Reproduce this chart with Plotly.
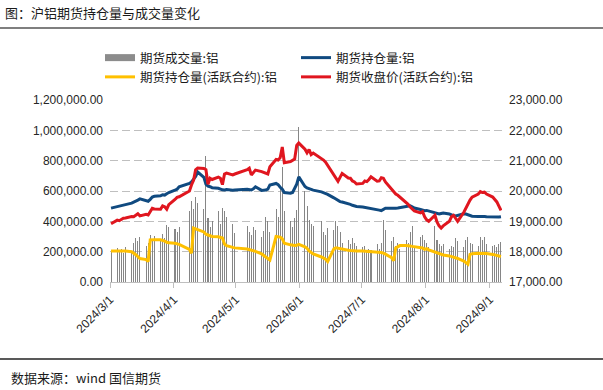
import pandas as pd
import plotly.graph_objects as go

# ---------------- data ----------------
dates = [
    "2024-03-01", "2024-03-04", "2024-03-05", "2024-03-06", "2024-03-07", "2024-03-08",
    "2024-03-11", "2024-03-12", "2024-03-13", "2024-03-14", "2024-03-15",
    "2024-03-18", "2024-03-19", "2024-03-20", "2024-03-21", "2024-03-22",
    "2024-03-25", "2024-03-26", "2024-03-27", "2024-03-28", "2024-03-29",
    "2024-04-01", "2024-04-02", "2024-04-03",
    "2024-04-08", "2024-04-09", "2024-04-10", "2024-04-11", "2024-04-12",
    "2024-04-15", "2024-04-16", "2024-04-17", "2024-04-18", "2024-04-19",
    "2024-04-22", "2024-04-23", "2024-04-24", "2024-04-25", "2024-04-26",
    "2024-04-29", "2024-04-30",
    "2024-05-06", "2024-05-07", "2024-05-08", "2024-05-09", "2024-05-10",
    "2024-05-13", "2024-05-14", "2024-05-15", "2024-05-16", "2024-05-17",
    "2024-05-20", "2024-05-21", "2024-05-22", "2024-05-23", "2024-05-24",
    "2024-05-27", "2024-05-28", "2024-05-29", "2024-05-30", "2024-05-31",
    "2024-06-03", "2024-06-04", "2024-06-05", "2024-06-06", "2024-06-07",
    "2024-06-11", "2024-06-12", "2024-06-13", "2024-06-14",
    "2024-06-17", "2024-06-18", "2024-06-19", "2024-06-20", "2024-06-21",
    "2024-06-24", "2024-06-25", "2024-06-26", "2024-06-27", "2024-06-28",
    "2024-07-01", "2024-07-02", "2024-07-03", "2024-07-04", "2024-07-05",
    "2024-07-08", "2024-07-09", "2024-07-10", "2024-07-11", "2024-07-12",
    "2024-07-15", "2024-07-16", "2024-07-17", "2024-07-18", "2024-07-19",
    "2024-07-22", "2024-07-23", "2024-07-24", "2024-07-25", "2024-07-26",
    "2024-07-29", "2024-07-30", "2024-07-31",
    "2024-08-01", "2024-08-02",
    "2024-08-05", "2024-08-06", "2024-08-07", "2024-08-08", "2024-08-09",
    "2024-08-12", "2024-08-13", "2024-08-14", "2024-08-15", "2024-08-16",
    "2024-08-19", "2024-08-20", "2024-08-21", "2024-08-22", "2024-08-23",
    "2024-08-26", "2024-08-27", "2024-08-28", "2024-08-29", "2024-08-30",
    "2024-09-02", "2024-09-03", "2024-09-04", "2024-09-05", "2024-09-06",
]

# 期货成交量:铝
volume = [
    210000, 225000, 200000, 215000, 190000, 230000,
    205000, 255000, 290000, 270000, 300000,
    240000, 260000, 310000, 285000, 305000,
    270000, 315000, 290000, 375000, 360000,
    350000, 330000, 365000,
    470000, 535000, 480000, 560000, 520000,
    480000, 830000, 420000, 365000, 400000,
    465000, 380000, 490000, 470000, 430000,
    385000, 320000,
    370000, 330000, 310000, 360000, 340000,
    300000, 335000, 430000, 400000, 330000,
    480000, 430000, 620000, 760000, 470000,
    400000, 360000, 420000, 475000, 1020000,
    600000, 500000, 410000, 380000, 370000,
    400000, 330000, 310000, 355000,
    340000, 400000, 370000, 330000, 260000,
    280000, 250000, 290000, 260000, 240000,
    230000, 240000, 200000, 215000, 210000,
    250000, 220000, 260000, 410000, 345000,
    270000, 300000, 240000, 260000, 220000,
    280000, 260000, 330000, 370000, 240000,
    300000, 310000, 280000,
    260000, 230000,
    366000, 280000, 250000, 235000, 250000,
    220000, 240000, 230000, 290000, 270000,
    230000, 280000, 300000, 260000, 250000,
    240000, 300000, 280000, 300000, 250000,
    240000, 245000, 230000, 250000, 265000,
]

# 期货持仓量:铝
open_interest = [
    487000, 495000, 497000, 503000, 506000, 510000,
    520000, 525000, 532000, 540000, 548000,
    538000, 532000, 545000, 560000, 565000,
    568000, 575000, 573000, 582000, 590000,
    605000, 612000, 628000,
    650000, 660000, 675000, 695000, 725000,
    690000, 645000, 632000, 628000, 622000,
    618000, 612000, 608000, 607000, 610000,
    605000, 607000,
    612000, 610000, 607000, 615000, 628000,
    604000, 603000, 606000, 612000, 640000,
    650000, 642000, 625000, 612000, 590000,
    585000, 590000, 615000, 645000, 693000,
    630000, 620000, 614000, 610000, 606000,
    594000, 590000, 584000, 578000,
    555000, 545000, 535000, 530000, 527000,
    518000, 512000, 506000, 502000, 498000,
    494000, 492000, 490000, 488000, 486000,
    478000, 474000, 471000, 476000, 486000,
    487000, 485000, 487000, 488000, 490000,
    495000, 500000, 502000, 495000, 488000,
    478000, 472000, 470000,
    472000, 468000,
    458000, 452000, 448000, 452000, 455000,
    448000, 442000, 438000, 436000, 440000,
    450000, 448000, 442000, 436000, 434000,
    432000, 433000, 434000, 432000, 430000,
    428000, 427000, 425000, 428000, 430000,
]

# 期货持仓量(活跃合约):铝
active_oi = [
    205000, 206000, 207000, 206000, 205000, 204000,
    200000, 192000, 180000, 168000, 155000,
    148000, 135000, 278000, 280000, 279000,
    278000, 276000, 270000, 262000, 258000,
    255000, 252000, 248000,
    215000, 190000, 355000, 352000, 345000,
    330000, 315000, 310000, 305000, 300000,
    298000, 292000, 290000, 250000, 240000,
    228000, 225000,
    218000, 215000, 210000, 205000, 202000,
    185000, 175000, 165000, 158000, 145000,
    300000, 298000, 296000, 285000, 255000,
    245000, 242000, 240000, 242000, 248000,
    232000, 222000, 205000, 195000, 185000,
    165000, 158000, 150000, 135000,
    218000, 225000, 222000, 218000, 214000,
    210000, 208000, 206000, 205000, 205000,
    204000, 203000, 202000, 202000, 200000,
    198000, 196000, 194000, 190000, 184000,
    160000, 140000, 225000, 235000, 240000,
    240000, 240000, 238000, 235000, 232000,
    228000, 224000, 215000,
    220000, 212000,
    198000, 190000, 184000, 180000, 178000,
    172000, 168000, 164000, 160000, 155000,
    138000, 125000, 118000, 182000, 186000,
    190000, 190000, 190000, 189000, 188000,
    182000, 178000, 175000, 172000, 168000,
]

# 期货收盘价(活跃合约):铝
close_price = [
    18920, 19040, 19020, 19070, 19100, 19110,
    19160, 19150, 19200, 19250, 19180,
    19230, 19210, 19300, 19430, 19410,
    19400, 19510, 19480, 19400, 19550,
    19720, 19790, 19810,
    20000, 20200, 20350, 20700, 20760,
    20740, 20700, 20220, 20420, 20380,
    20460, 20420, 20210, 20560, 20590,
    20530, 20560,
    20700, 20750, 20530, 20620, 20690,
    20640, 20610, 20590, 20560, 20800,
    21040, 21020, 21100, 21450, 20930,
    20970, 21000, 21050, 21500, 21580,
    21380, 21260, 21370, 21200, 21250,
    21080, 21020, 20950, 20850,
    20560, 20450, 20320, 20450, 20580,
    20430, 20420, 20330, 20300, 20230,
    20250, 20330, 20310, 20380, 20470,
    20320, 20330, 20440, 20420, 20300,
    20040, 19990, 19900, 19860, 19800,
    19640, 19560, 19470, 19400, 19340,
    19280, 19320, 19150,
    19050, 19000,
    19200, 18980, 18850, 18780, 18850,
    19000, 19150, 19200, 19100, 19000,
    19300, 19450, 19550, 19700, 19800,
    19900, 19980, 19950, 19960, 19900,
    19800, 19720, 19640, 19500, 19360,
]

names = ["期货成交量:铝", "期货持仓量:铝", "期货持仓量(活跃合约):铝", "期货收盘价(活跃合约):铝"]
colors = ["#8c8c8c", "#104a80", "#ffc000", "#e0161f"]

# ---------------- geometry helpers ----------------
W, H = 603, 390
ML, MR, MT, MB = 110, 101, 100, 108
PW, PH = W - ML - MR, H - MT - MB


def px(x):
    return (x - ML) / PW


def py(y):
    return (H - MB - y) / PH


# each trading day occupies its own calendar-day slot (Excel date axis)
x = pd.to_datetime(dates) + pd.Timedelta(hours=12)
bar_w = 0.5 * 24 * 3600 * 1000

num_font = "Liberation Sans, Arial, sans-serif"
cjk_font = "Noto Sans CJK SC, sans-serif"

fig = go.Figure()
# translucent colour -> plotly rounds thin bars to whole pixels instead of widening them
fig.add_trace(go.Bar(x=x, y=volume, width=bar_w,
                     marker=dict(color="rgba(128,128,128,0.95)", line=dict(width=0)),
                     name=names[0], showlegend=False, yaxis="y"))
# legend-only entry to mimic the wide grey box of the original legend
fig.add_trace(go.Scatter(x=[None], y=[None], mode="lines", line=dict(color=colors[0], width=7),
                         name=names[0], yaxis="y"))
fig.add_trace(go.Scatter(x=x, y=open_interest, mode="lines", line=dict(color=colors[1], width=3),
                         name=names[1], yaxis="y"))
fig.add_trace(go.Scatter(x=x, y=active_oi, mode="lines", line=dict(color=colors[2], width=3),
                         name=names[2], yaxis="y"))
fig.add_trace(go.Scatter(x=x, y=close_price, mode="lines", line=dict(color=colors[3], width=3),
                         name=names[3], yaxis="y2"))

fig.update_layout(
    width=W, height=H,
    margin=dict(l=ML, r=MR, t=MT, b=MB, pad=0, autoexpand=False),
    paper_bgcolor="white", plot_bgcolor="white",
    font=dict(family=num_font, size=12, color="#262626"),
    bargap=0,
    showlegend=True,
    legend=dict(orientation="h", x=px(100), y=py(43), xanchor="left", yanchor="top",
                font=dict(family=cjk_font, size=12.5, color="#1a1a1a"),
                entrywidth=151, entrywidthmode="pixels",
                bgcolor="rgba(0,0,0,0)", traceorder="normal", itemclick=False),
    xaxis=dict(type="date", range=["2024-03-01", "2024-09-07"],
               tick0="2024-03-01", dtick="M1", tickformat="%Y/%-m/%-d", tickangle=-45,
               ticks="outside", ticklen=5, tickcolor="#bfbfbf",
               showline=True, linecolor="#bfbfbf", linewidth=1,
               showgrid=False, zeroline=False, automargin=False,
               tickfont=dict(family=num_font, size=12, color="#262626")),
    yaxis=dict(range=[0, 1200000], dtick=200000, tickformat=",.2f",
               showgrid=True, gridcolor="#bfbfbf", griddash="8px,4px", gridwidth=1,
               zeroline=False, showline=False, ticks="", ticklabelstandoff=6, automargin=False,
               tickfont=dict(family=num_font, size=12, color="#262626")),
    yaxis2=dict(range=[17000, 23000], dtick=1000, tickformat=",.2f", overlaying="y", side="right",
                showgrid=False, zeroline=False, showline=False, ticks="", ticklabelstandoff=6,
                automargin=False,
                tickfont=dict(family=num_font, size=12, color="#262626")),
)

fig.add_annotation(text="图：沪铝期货持仓量与成交量变化", xref="paper", yref="paper",
                   x=px(3), y=py(13), xanchor="left", yanchor="middle", showarrow=False,
                   font=dict(family=cjk_font, size=13, color="#1a1a1a"))
fig.add_annotation(text="数据来源：wind 国信期货", xref="paper", yref="paper",
                   x=px(9), y=py(377), xanchor="left", yanchor="middle", showarrow=False,
                   font=dict(family=cjk_font, size=13, color="#1a1a1a"))
fig.add_shape(type="line", xref="paper", yref="paper", x0=px(0), x1=px(W), y0=py(28), y1=py(28),
              line=dict(color="#7f7f7f", width=2))
fig.add_shape(type="line", xref="paper", yref="paper", x0=px(0), x1=px(W), y0=py(359), y1=py(359),
              line=dict(color="#595959", width=2))

fig.write_html("out.html", config={"displayModeBar": False},
               post_script="document.body.style.margin='0px';")
